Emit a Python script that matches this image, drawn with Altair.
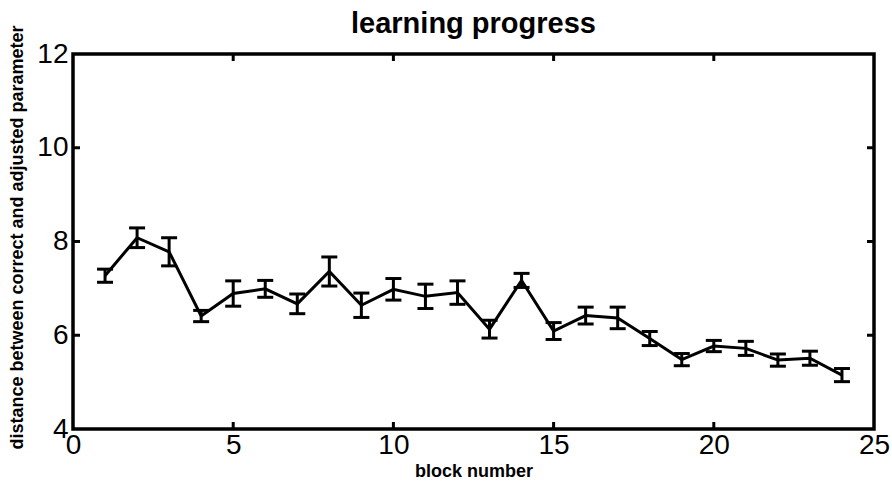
import altair as alt
import pandas as pd

# block-wise mean distance and its standard error
blocks = list(range(1, 25))
means = [7.27, 8.08, 7.78, 6.41, 6.89, 6.99, 6.67, 7.36, 6.64, 6.98, 6.83, 6.91,
         6.13, 7.17, 6.09, 6.42, 6.37, 5.93, 5.48, 5.77, 5.72, 5.47, 5.51, 5.15]
errors = [0.14, 0.21, 0.30, 0.12, 0.27, 0.18, 0.21, 0.31, 0.26, 0.23, 0.26, 0.25,
          0.19, 0.15, 0.18, 0.18, 0.23, 0.15, 0.13, 0.12, 0.15, 0.13, 0.15, 0.14]

x_ticks = [0, 5, 10, 15, 20, 25]
y_ticks = [4, 6, 8, 10, 12]
x_inner_ticks = [5, 10, 15, 20]
y_inner_ticks = [6, 8, 10]

W, H = 801, 375
FONT = "Liberation Sans"

df = pd.DataFrame({"block": blocks, "mean": means, "err": errors})
df["lo"] = df["mean"] - df["err"]
df["hi"] = df["mean"] + df["err"]

xs = alt.Scale(domain=[0, 25], nice=False, zero=False)
ys = alt.Scale(domain=[4, 12], nice=False, zero=False)

x_axis = alt.Axis(values=x_ticks, title="block number", grid=False, domain=False,
                  ticks=False, labelFlush=False, labelFont=FONT, labelFontSize=28,
                  labelColor="black", labelPadding=2, titleFont=FONT, titleFontSize=18,
                  titleFontWeight="bold", titleColor="black", titleX=W / 2, titleY=42,
                  titleBaseline="middle", titleAlign="center")
y_axis = alt.Axis(values=y_ticks, title="distance between correct and adjusted parameter",
                  grid=False, domain=False, ticks=False, labelFlush=False, labelFont=FONT,
                  labelFontSize=28, labelColor="black", labelPadding=5, titleFont=FONT,
                  titleFontSize=18, titleFontWeight="bold", titleColor="black",
                  titleAngle=270, titleX=-56, titleY=183, titleBaseline="middle",
                  titleAlign="center")

base = alt.Chart(df)

line = base.mark_line(color="black", strokeWidth=3).encode(
    x=alt.X("block:Q", scale=xs, axis=x_axis),
    y=alt.Y("mean:Q", scale=ys, axis=y_axis),
)
bars = base.mark_rule(color="black", strokeWidth=3).encode(
    x=alt.X("block:Q", scale=xs), y=alt.Y("lo:Q", scale=ys), y2="hi:Q"
)
cap_lo = base.mark_tick(color="black", orient="horizontal", size=16, thickness=3,
                        opacity=1).encode(
    x=alt.X("block:Q", scale=xs), y=alt.Y("lo:Q", scale=ys)
)
cap_hi = base.mark_tick(color="black", orient="horizontal", size=16, thickness=3,
                        opacity=1).encode(
    x=alt.X("block:Q", scale=xs), y=alt.Y("hi:Q", scale=ys)
)

# inward tick marks on all four sides of the box
yt = pd.DataFrame({"v": y_inner_ticks})
xt = pd.DataFrame({"v": x_inner_ticks})
tick_style = dict(color="black", strokeWidth=3)
left_t = alt.Chart(yt).mark_rule(**tick_style).encode(
    y=alt.Y("v:Q", scale=ys), x=alt.value(0), x2=alt.value(7))
right_t = alt.Chart(yt).mark_rule(**tick_style).encode(
    y=alt.Y("v:Q", scale=ys), x=alt.value(W - 7), x2=alt.value(W))
bottom_t = alt.Chart(xt).mark_rule(**tick_style).encode(
    x=alt.X("v:Q", scale=xs), y=alt.value(H - 7), y2=alt.value(H))
top_t = alt.Chart(xt).mark_rule(**tick_style).encode(
    x=alt.X("v:Q", scale=xs), y=alt.value(0), y2=alt.value(7))

chart = (
    alt.layer(line, bars, cap_lo, cap_hi, left_t, right_t, bottom_t, top_t)
    .properties(
        width=W,
        height=H,
        title=alt.TitleParams("learning progress", font=FONT, fontSize=29,
                              fontWeight="bold", color="black", offset=17, dy=31,
                              frame="group"),
        autosize=alt.AutoSizeParams(type="none"),
        padding={"left": 73, "top": 54, "right": 18, "bottom": 55},
        background="white",
    )
    .configure_view(stroke="black", strokeWidth=3.5)
)

chart.save("out.html", embed_options={"renderer": "svg", "actions": False})
